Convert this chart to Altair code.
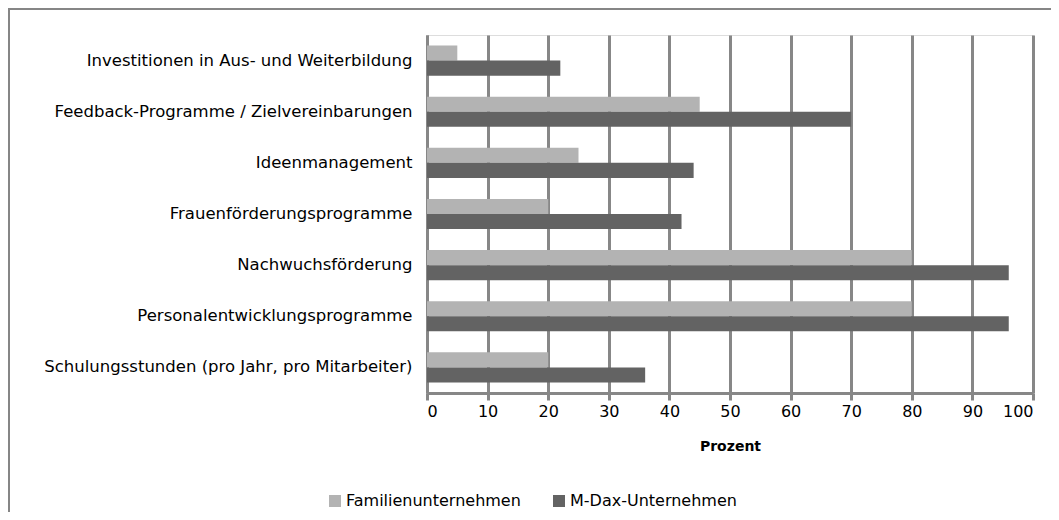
import altair as alt
import pandas as pd

categories = [
    "Investitionen in Aus- und Weiterbildung",
    "Feedback-Programme / Zielvereinbarungen",
    "Ideenmanagement",
    "Frauenförderungsprogramme",
    "Nachwuchsförderung",
    "Personalentwicklungsprogramme",
    "Schulungsstunden (pro Jahr, pro Mitarbeiter)",
]
series = ["Familienunternehmen", "M-Dax-Unternehmen"]
familien = [5, 45, 25, 20, 80, 80, 20]
mdax = [22, 70, 44, 42, 96, 96, 36]
colors = ["#b3b3b3", "#636363"]

rows = []
for c, f, m in zip(categories, familien, mdax):
    rows.append({"Kategorie": c, "Serie": series[0], "Wert": f})
    rows.append({"Kategorie": c, "Serie": series[1], "Wert": m})
df = pd.DataFrame(rows)

FONT = "DejaVu Sans"
GRID = "#878787"

bars = alt.Chart(df).mark_bar().encode(
    y=alt.Y(
        "Kategorie:N",
        sort=categories,
        title=None,
        scale=alt.Scale(paddingInner=0.41, paddingOuter=0.205),
        axis=alt.Axis(
            ticks=False,
            domainColor=GRID,
            domainWidth=3,
            labelFont=FONT,
            labelFontSize=16.5,
            labelColor="#000000",
            labelPadding=15,
            labelLimit=500,
            grid=False,
        ),
    ),
    yOffset=alt.YOffset("Serie:N", sort=series),
    x=alt.X(
        "Wert:Q",
        title="Prozent",
        scale=alt.Scale(domain=[0, 100], nice=False),
        axis=alt.Axis(
            values=list(range(0, 101, 10)),
            grid=True,
            gridColor=GRID,
            gridWidth=3,
            gridOpacity=1,
            domainColor=GRID,
            domainWidth=3,
            tickColor=GRID,
            tickWidth=3,
            tickSize=7,
            labelFont=FONT,
            labelFontSize=16,
            labelColor="#000000",
            labelPadding=3,
            titleFont=FONT,
            titleFontSize=14,
            titleFontWeight="bold",
            titleColor="#000000",
            titlePadding=20,
        ),
    ),
    color=alt.Color(
        "Serie:N",
        sort=series,
        scale=alt.Scale(domain=series, range=colors),
        legend=alt.Legend(
            title=None,
            orient="none",
            direction="horizontal",
            legendX=-100,
            legendY=458,
            symbolType="square",
            symbolSize=144,
            symbolStrokeWidth=0,
            symbolOpacity=1,
            labelFont=FONT,
            labelFontSize=16,
            labelColor="#000000",
            labelOffset=3,
            labelLimit=400,
            columnPadding=30,
        ),
    ),
)

frame = alt.Chart(df).mark_rect(fill=None, stroke="#868686", strokeWidth=2).encode(
    x=alt.value(-418),
    x2=alt.value(640),
    y=alt.value(-26),
    y2=alt.value(500),
)

chart = (
    alt.layer(bars, frame)
    .properties(
        width=606,
        height=358,
        autosize=alt.AutoSizeParams(type="none"),
        padding={"left": 419, "top": 27, "right": 18, "bottom": 119},
    )
    .configure_view(stroke=None)
    .configure(background="#ffffff")
)

chart.save("out.html", embed_options={"renderer": "svg", "actions": False})
